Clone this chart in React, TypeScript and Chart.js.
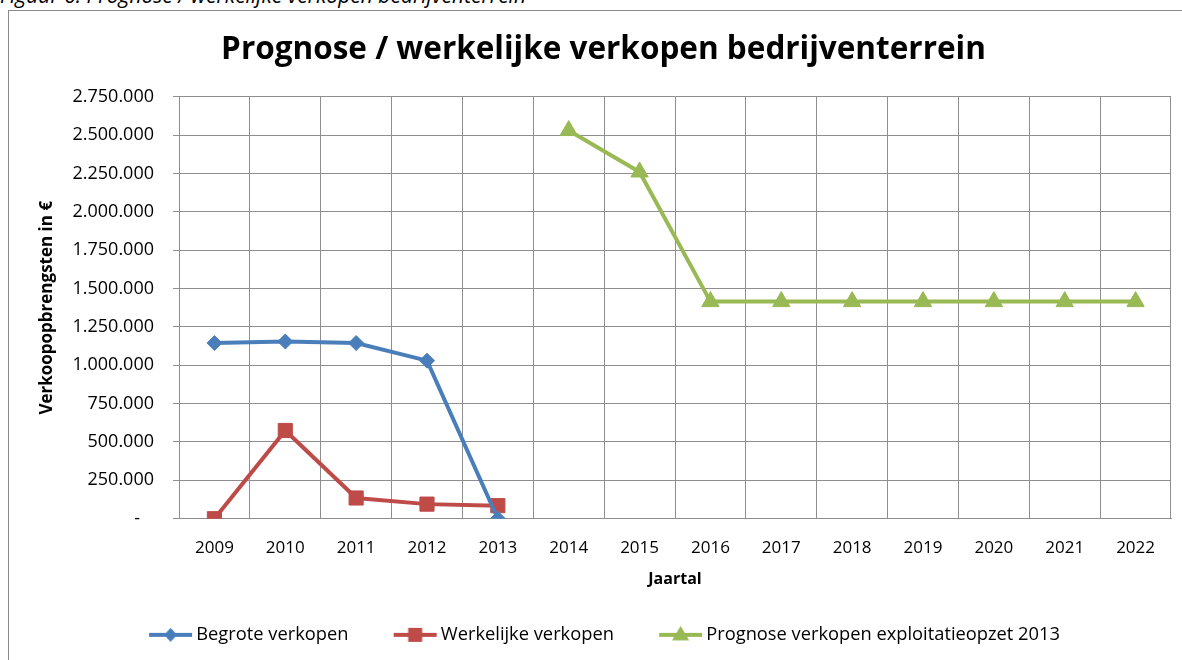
import React, { useEffect, useRef } from "react";
import { Chart, registerables } from "chart.js";

Chart.register(...registerables);

const years = ["2009", "2010", "2011", "2012", "2013", "2014", "2015", "2016", "2017", "2018", "2019", "2020", "2021", "2022"];
const begrote = [1145000, 1155000, 1145000, 1030000, 0, null, null, null, null, null, null, null, null, null];
const werkelijke = [0, 575000, 135000, 95000, 85000, null, null, null, null, null, null, null, null, null];
const prognose = [null, null, null, null, null, 2530000, 2260000, 1415000, 1415000, 1415000, 1415000, 1415000, 1415000, 1415000];

const seriesNames = ["Begrote verkopen", "Werkelijke verkopen", "Prognose verkopen exploitatieopzet 2013"];
const seriesColors = ["#4A7EBB", "#BE4B48", "#98B954"];
const chartTitle = "Prognose / werkelijke verkopen bedrijventerrein";
const captionText = "Figuur 6: Prognose / werkelijke verkopen bedrijventerrein";
const yTitle = "Verkoopopbrengsten in €";
const xTitle = "Jaartal";

const FONT = "'Open Sans', Lato, sans-serif";

function fmt(v: number): string {
  if (v === 0) return "-   ";
  return String(Math.round(v)).replace(/\B(?=(\d{3})+(?!\d))/g, ".");
}

// legend icon: line with marker; drawn centred on the legend box
function makeIcon(color: string, kind: string): HTMLCanvasElement {
  const c = document.createElement("canvas");
  const w = 60, h = 20;
  c.width = w;
  c.height = h;
  const ctx = c.getContext("2d")!;
  const a = 12, b = 55;
  const cy = h / 2, cx = (a + b) / 2;
  ctx.strokeStyle = color;
  ctx.lineWidth = 4;
  ctx.beginPath();
  ctx.moveTo(a, cy);
  ctx.lineTo(b, cy);
  ctx.stroke();
  ctx.fillStyle = color;
  ctx.beginPath();
  if (kind === "diamond") {
    const r = 7;
    ctx.moveTo(cx, cy - r);
    ctx.lineTo(cx + r - 0.5, cy);
    ctx.lineTo(cx, cy + r);
    ctx.lineTo(cx - r + 0.5, cy);
  } else if (kind === "square") {
    const s = 7;
    ctx.rect(cx - s, cy - s, 2 * s, 2 * s);
  } else {
    const r = 9;
    ctx.moveTo(cx, cy - r);
    ctx.lineTo(cx + r * 0.95, cy + r * 0.6);
    ctx.lineTo(cx - r * 0.95, cy + r * 0.6);
  }
  ctx.closePath();
  ctx.fill();
  return c;
}

export default function App() {
  const ref = useRef<HTMLCanvasElement | null>(null);

  useEffect(() => {
    if (!ref.current) return;
    const icons = [
      makeIcon(seriesColors[0], "diamond"),
      makeIcon(seriesColors[1], "square"),
      makeIcon(seriesColors[2], "triangle"),
    ];
    const gridColor = "#8e8e8e";
    const chart = new Chart(ref.current, {
      type: "line",
      data: {
        labels: years,
        datasets: [
          {
            label: seriesNames[0],
            data: begrote,
            borderColor: seriesColors[0],
            backgroundColor: seriesColors[0],
            borderWidth: 4,
            pointStyle: "rectRot",
            pointRadius: 7.5,
            pointBorderWidth: 1,
          },
          {
            label: seriesNames[1],
            data: werkelijke,
            borderColor: seriesColors[1],
            backgroundColor: seriesColors[1],
            borderWidth: 4,
            pointStyle: "rect",
            pointRadius: 10,
            pointBorderWidth: 1,
          },
          {
            label: seriesNames[2],
            data: prognose,
            borderColor: seriesColors[2],
            backgroundColor: seriesColors[2],
            borderWidth: 4,
            pointStyle: "triangle",
            pointRadius: 10,
            pointBorderWidth: 1,
          },
        ],
      },
      options: {
        responsive: false,
        maintainAspectRatio: false,
        animation: false,
        layout: { padding: { left: 24, right: 8, top: 0, bottom: 6 } },
        plugins: {
          tooltip: { enabled: false },
          title: {
            display: true,
            text: chartTitle,
            color: "#000",
            font: { family: FONT, size: 31.5, weight: "bold" },
            padding: { top: 20, bottom: 28 },
          },
          legend: {
            position: "bottom",
            labels: {
              usePointStyle: true,
              pointStyleWidth: 40,
              color: "#000",
              font: { family: FONT, size: 18.3 },
              padding: 10,
              generateLabels: (ch: any) =>
                ch.data.datasets.map((ds: any, i: number) => ({
                  text: i < 2 ? ds.label + "       " : ds.label,
                  fillStyle: ds.backgroundColor,
                  strokeStyle: ds.borderColor,
                  lineWidth: 0,
                  pointStyle: icons[i],
                  hidden: false,
                  datasetIndex: i,
                  fontColor: "#000",
                })),
            },
          },
        },
        scales: {
          x: {
            offset: true,
            grid: { color: gridColor, lineWidth: 1, offset: true, drawTicks: false },
            border: { color: gridColor, width: 1 },
            ticks: { color: "#000", font: { family: FONT, size: 17 }, padding: 19, maxRotation: 0 },
            title: {
              display: true,
              text: xTitle,
              color: "#000",
              font: { family: FONT, size: 16, weight: "bold" },
              padding: { top: 0, bottom: 27 },
            },
            afterFit: (s: any) => {
              s.height = 97;
            },
          },
          y: {
            min: 0,
            max: 2750000,
            grid: { color: gridColor, lineWidth: 1, drawTicks: true, tickLength: 6 },
            border: { color: gridColor, width: 1 },
            ticks: {
              stepSize: 250000,
              color: "#000",
              font: { family: FONT, size: 18 },
              padding: 19,
              callback: (v: any) => fmt(Number(v)),
            },
            title: {
              display: true,
              text: yTitle,
              color: "#000",
              font: { family: FONT, size: 17, weight: "bold" },
              padding: { top: 4, bottom: 0 },
            },
            afterFit: (s: any) => {
              s.width = 146;
            },
          },
        },
      },
    });
    return () => chart.destroy();
  }, []);

  return (
    <div style={{ position: "fixed", left: 0, top: 0, width: 1182, height: 660, overflow: "hidden", background: "#fff" }}>
      <div
        style={{
          position: "absolute",
          left: 0,
          top: -15,
          fontFamily: FONT,
          fontStyle: "italic",
          fontSize: 21,
          lineHeight: "20px",
          whiteSpace: "nowrap",
          color: "#000",
        }}
      >
        {captionText}
      </div>
      <div
        style={{
          position: "absolute",
          left: 8,
          top: 10,
          width: 1174,
          height: 650,
          borderLeft: "1px solid #8a8a8a",
          borderTop: "1px solid #8a8a8a",
          boxSizing: "border-box",
        }}
      />
      <canvas
        ref={ref}
        width={1173}
        height={649}
        style={{ position: "absolute", left: 9, top: 11, width: 1173, height: 649, display: "block" }}
      />
    </div>
  );
}
